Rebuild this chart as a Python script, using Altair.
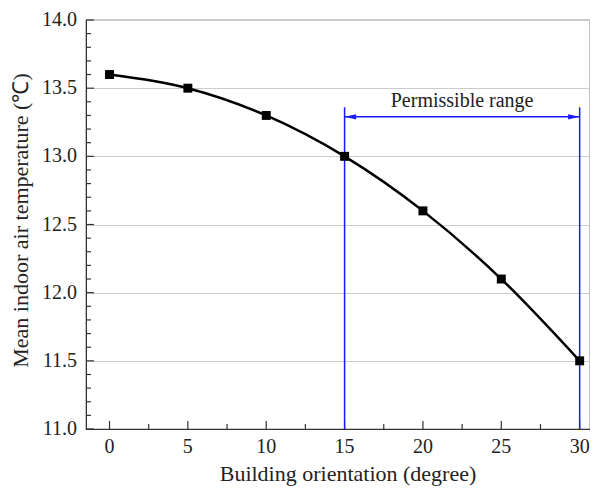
import altair as alt
import pandas as pd

orientation = [0, 5, 10, 15, 20, 25, 30]
temperature = [13.6, 13.5, 13.3, 13.0, 12.6, 12.1, 11.5]
range_bounds = [15, 30]
range_label = "Permissible range"
x_major = [0, 5, 10, 15, 20, 25, 30]
x_minor = [2.5, 7.5, 12.5, 17.5, 22.5, 27.5]
y_major = [11.0, 11.5, 12.0, 12.5, 13.0, 13.5, 14.0]
y_minor = [11.1, 11.2, 11.3, 11.4, 11.6, 11.7, 11.8, 11.9, 12.1, 12.2, 12.3, 12.4,
           12.6, 12.7, 12.8, 12.9, 13.1, 13.2, 13.3, 13.4, 13.6, 13.7, 13.8, 13.9]
x_title = "Building orientation (degree)"
y_title = "Mean indoor air temperature (℃)"

W, H = 504, 409
FONT = "Liberation Serif"

xs = alt.Scale(domain=[-1.5, 30.66], nice=False, zero=False)
ys = alt.Scale(domain=[11.0, 14.0], nice=False, zero=False)

df = pd.DataFrame({"x": orientation, "y": temperature})

base_x = alt.X("x:Q", scale=xs, title=None,
               axis=alt.Axis(values=x_major, tickSize=0, grid=False, labels=False))
base_y = alt.Y("y:Q", scale=ys, title=None,
               axis=alt.Axis(values=y_major, tickSize=0, grid=True, labels=False))

line = alt.Chart(df).mark_line(color="black", strokeWidth=2.5, interpolate="monotone").encode(
    x=base_x, y=base_y)
pts = alt.Chart(df).mark_point(shape="square", filled=True, color="black", size=80, opacity=1).encode(
    x=alt.X("x:Q", scale=xs), y=alt.Y("y:Q", scale=ys))

# ticks inward
xt_major = alt.Chart(pd.DataFrame({"x": x_major})).mark_rule(color="#333", strokeWidth=1.2).encode(
    x=alt.X("x:Q", scale=xs), y=alt.value(H), y2=alt.value(H - 8))
xt_minor = alt.Chart(pd.DataFrame({"x": x_minor})).mark_rule(color="#333", strokeWidth=1.2).encode(
    x=alt.X("x:Q", scale=xs), y=alt.value(H), y2=alt.value(H - 5))
yt_major = alt.Chart(pd.DataFrame({"y": y_major})).mark_rule(color="#333", strokeWidth=1.2).encode(
    y=alt.Y("y:Q", scale=ys), x=alt.value(0), x2=alt.value(8))
yt_minor = alt.Chart(pd.DataFrame({"y": y_minor})).mark_rule(color="#333", strokeWidth=1.2).encode(
    y=alt.Y("y:Q", scale=ys), x=alt.value(0), x2=alt.value(5))

# tick labels and titles as text
xl = alt.Chart(pd.DataFrame({"x": x_major})).mark_text(
    font=FONT, fontSize=20, color="#222", baseline="top").encode(
    x=alt.X("x:Q", scale=xs), y=alt.value(H + 8), text=alt.Text("x:Q", format="d"))
yl = alt.Chart(pd.DataFrame({"y": y_major})).mark_text(
    font=FONT, fontSize=20, color="#222", baseline="middle", align="right").encode(
    y=alt.Y("y:Q", scale=ys), x=alt.value(-9), text=alt.Text("y:Q", format=".1f"))
xtitle = alt.Chart(pd.DataFrame({"t": [x_title]})).mark_text(
    font=FONT, fontSize=22, color="#222", baseline="top").encode(
    x=alt.value(W / 2 + 10), y=alt.value(H + 35), text="t:N")
ytitle = alt.Chart(pd.DataFrame({"t": [y_title]})).mark_text(
    font=FONT, fontSize=22, color="#222", baseline="bottom", angle=270).encode(
    x=alt.value(-53), y=alt.value(H / 2 - 4), text="t:N")

# permissible range
vlines = alt.Chart(pd.DataFrame({"x": range_bounds, "y": [13.36, 13.36], "y0": [11.0, 11.0]})).mark_rule(
    color="#1a1aff", strokeWidth=1.5).encode(
    x=alt.X("x:Q", scale=xs), y=alt.Y("y:Q", scale=ys), y2="y0:Q")
hline = alt.Chart(pd.DataFrame({"x": [range_bounds[0]], "x2": [range_bounds[1]], "y": [13.29]})).mark_rule(
    color="#1a1aff", strokeWidth=1.5).encode(
    x=alt.X("x:Q", scale=xs), x2="x2:Q", y=alt.Y("y:Q", scale=ys))
arrows = alt.Chart(pd.DataFrame({"x": range_bounds, "y": [13.29, 13.29],
                                 "s": ["left", "right"]})).mark_point(
    filled=True, color="#1a1aff", opacity=1, size=110).encode(
    x=alt.X("x:Q", scale=xs), y=alt.Y("y:Q", scale=ys),
    shape=alt.Shape("s:N", scale=alt.Scale(domain=["left", "right"],
                                          range=["M0,0 L2.2,-0.5 L2.2,0.5 Z", "M0,0 L-2.2,-0.5 L-2.2,0.5 Z"]),
                    legend=None))
label = alt.Chart(pd.DataFrame({"x": [22.5], "y": [13.405], "t": [range_label]})).mark_text(
    font=FONT, fontSize=20, color="#222", baseline="middle").encode(
    x=alt.X("x:Q", scale=xs), y=alt.Y("y:Q", scale=ys), text="t:N")

chart = alt.layer(line, xt_major, xt_minor, yt_major, yt_minor, vlines, hline, arrows, pts, label,
                  xl, yl, xtitle, ytitle).properties(
    width=W, height=H, autosize=alt.AutoSizeParams(type="none"),
    padding={"left": 78, "top": 12, "right": 0, "bottom": 57}
).configure(background="white", font=FONT).configure_view(stroke="#333", strokeWidth=1.2).configure_axis(
    domainColor="#333", gridColor="#cccccc", gridWidth=1
)

chart.save("out.html", embed_options={"renderer": "svg", "actions": False})
